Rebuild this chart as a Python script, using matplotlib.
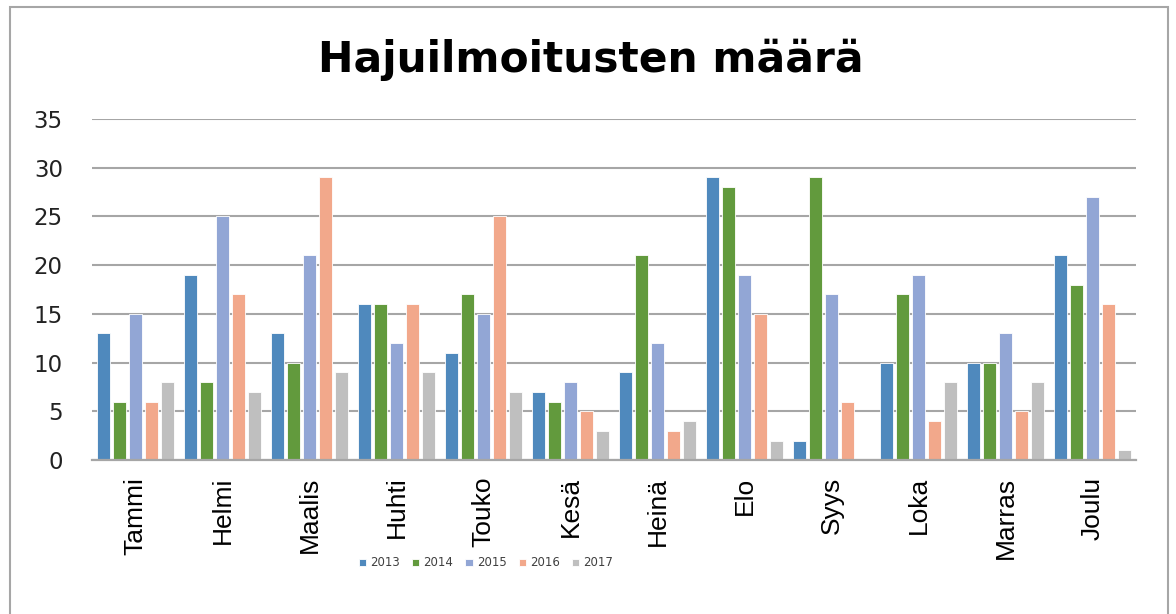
import numpy as np
import matplotlib.pyplot as plt
from matplotlib.patches import Rectangle

# kuukaudet ja vuosittaiset hajuilmoitukset
kuukaudet = ['Tammi', 'Helmi', 'Maalis', 'Huhti', 'Touko', 'Kesä',
             'Heinä', 'Elo', 'Syys', 'Loka', 'Marras', 'Joulu']
vuodet = ['2013', '2014', '2015', '2016', '2017']
v2013 = [13, 19, 13, 16, 11, 7, 9, 29, 2, 10, 10, 21]
v2014 = [6, 8, 10, 16, 17, 6, 21, 28, 29, 17, 10, 18]
v2015 = [15, 25, 21, 12, 15, 8, 12, 19, 17, 19, 13, 27]
v2016 = [6, 17, 29, 16, 25, 5, 3, 15, 6, 4, 5, 16]
v2017 = [8, 7, 9, 9, 7, 3, 4, 2, 0, 8, 8, 1]
sarjat = [v2013, v2014, v2015, v2016, v2017]
varit = ['#4F89BD', '#629A3D', '#92A6D5', '#F2A88B', '#BFBFBF']

fig = plt.figure(figsize=(11.76, 6.14), dpi=100)
ax = fig.add_axes([92 / 1176, 1 - 460 / 614, 1044 / 1176, 341 / 614])

x = np.arange(len(kuukaudet))
vali = 0.186   # pylväiden väli
leveys = 0.152
for i, (arvot, vari) in enumerate(zip(sarjat, varit)):
    ax.bar(x + (i - 2) * vali, arvot, leveys, color=vari,
           edgecolor='white', linewidth=0.6, label=vuodet[i], zorder=3)

ax.set_xlim(-0.5, len(kuukaudet) - 0.5)
ax.set_ylim(0, 35)
ax.set_yticks(range(0, 36, 5))
ax.yaxis.grid(True, color='#A6A6A6', linewidth=1.5, zorder=0)
for s in ['top', 'right', 'left']:
    ax.spines[s].set_visible(False)
ax.spines['bottom'].set_color('#A6A6A6')
ax.spines['bottom'].set_linewidth(1.6)
ax.spines['bottom'].set_zorder(4)
ax.tick_params(axis='both', length=0)
ax.tick_params(axis='y', labelsize=16.5, pad=21, labelcolor='#222222')
ax.set_xticks(x)
ax.set_xticklabels(kuukaudet, rotation=90, fontsize=19,
                   fontfamily='Liberation Sans')
ax.tick_params(axis='x', pad=12)

fig.text(0.502, 1 - 60 / 614, 'Hajuilmoitusten määrä', ha='center',
         va='center', fontsize=30.5, fontweight='bold')

leg = ax.legend(loc='center', bbox_to_anchor=(486 / 1176, 1 - 563 / 614),
                bbox_transform=fig.transFigure, ncol=5, frameon=False,
                fontsize=8.5, handlelength=0.6, handleheight=0.6,
                handletextpad=0.35, columnspacing=1.05)
for t in leg.get_texts():
    t.set_color('#404040')

# kehys kuvan ympärillä
fig.patches.append(Rectangle((10 / 1176, -0.05), 1158 / 1176, 1.05 - 7 / 614,
                             transform=fig.transFigure, fill=False,
                             edgecolor='#A6A6A6', linewidth=1.5))

fig.savefig('out.png', dpi=100)
